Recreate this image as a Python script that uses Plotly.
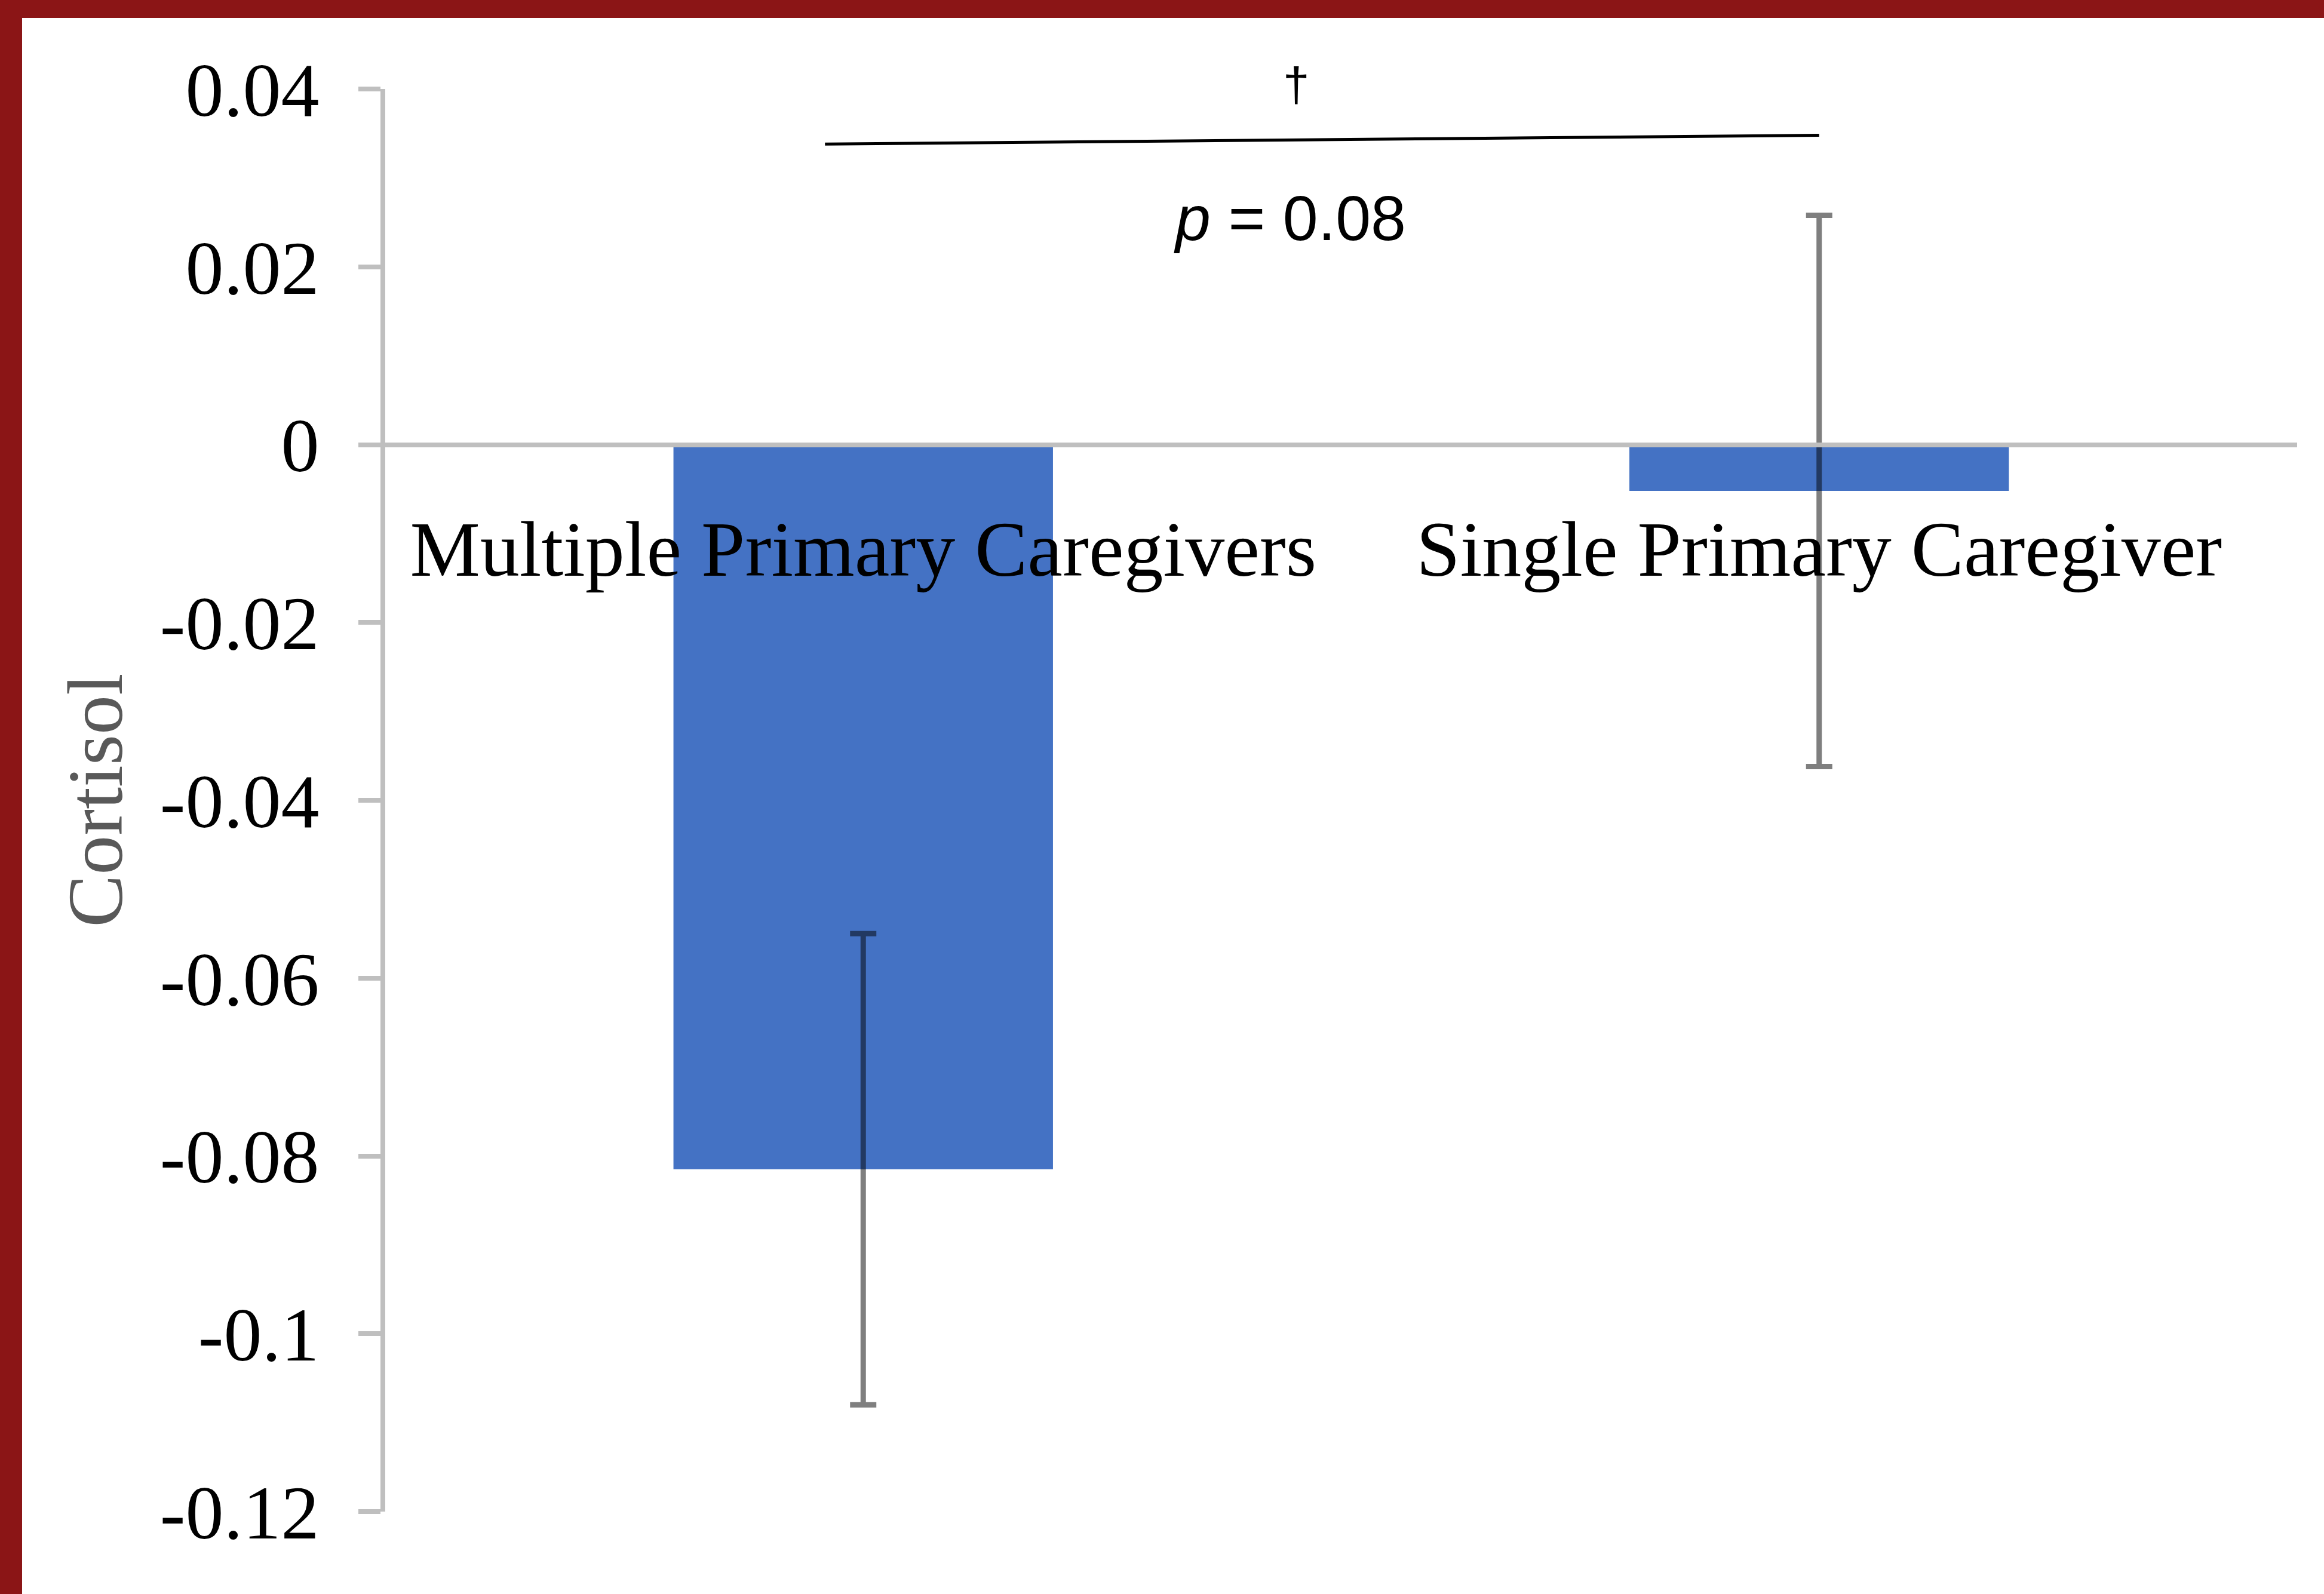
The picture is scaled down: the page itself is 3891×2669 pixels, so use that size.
import plotly.graph_objects as go

# Mean change in cortisol by caregiving arrangement, with standard errors
categories = ["Multiple Primary Caregivers", "Single Primary Caregiver"]
cortisol_mean = [-0.0815, -0.0052]
cortisol_se = [0.0265, 0.031]

y_tick_values = [0.04, 0.02, 0, -0.02, -0.04, -0.06, -0.08, -0.1, -0.12]
y_tick_labels = ["0.04", "0.02", "0", "-0.02", "-0.04", "-0.06", "-0.08", "-0.1", "-0.12"]

p_value_text = "<i>p</i> = 0.08"
significance_mark = "†"

W, H = 3891, 2669
BAR_BLUE = "#4472C4"
AXIS_GREY = "#BFBFBF"
FRAME_RED = "#8B1516"
SERIF = "Liberation Serif, Times New Roman, serif"
NARROW = "Liberation Sans Narrow, Liberation Sans, Arial, sans-serif"

fig = go.Figure()

fig.add_trace(go.Bar(
    x=categories,
    y=cortisol_mean,
    marker=dict(color=BAR_BLUE, line=dict(width=0)),
    error_y=dict(type="data", array=cortisol_se, symmetric=True,
                 color="rgba(0,0,0,0.5)", thickness=9, width=22),
    showlegend=False,
))

# significance bracket between the two groups
fig.add_shape(type="line", xref="x", yref="y",
              x0=-0.04, y0=0.0338, x1=1.0, y1=0.0348,
              line=dict(color="black", width=5))
fig.add_annotation(x=0.453, y=0.04, xref="x", yref="y", yshift=8, text=significance_mark,
                   showarrow=False, font=dict(family=NARROW, size=80, color="black"))
fig.add_annotation(x=0.446, y=0.0255, xref="x", yref="y", text=p_value_text,
                   showarrow=False, font=dict(family=NARROW, size=106, color="black"))

# dark red frame along the top and left edges of the figure
fig.add_shape(type="rect", xref="paper", yref="paper",
              xsizemode="pixel", xanchor=0, x0=-700, x1=-608,
              y0=-0.2, y1=1.2, fillcolor=FRAME_RED, line=dict(width=0), layer="above")
fig.add_shape(type="rect", xref="paper", yref="paper",
              ysizemode="pixel", yanchor=1, y0=119, y1=200,
              x0=-0.3, x1=1.1, fillcolor=FRAME_RED, line=dict(width=0), layer="above")

fig.update_layout(
    width=W, height=H, autosize=False,
    margin=dict(l=645, r=45, t=149, b=138, pad=0),
    paper_bgcolor="white", plot_bgcolor="white",
    bargap=0.603,
    font=dict(family=SERIF, color="black"),
)

fig.update_xaxes(
    range=[-0.5, 1.5],
    anchor="free", position=0.75,
    showline=True, linecolor=AXIS_GREY, linewidth=8,
    ticks="", showgrid=False, zeroline=False,
    tickfont=dict(family=SERIF, size=132, color="black"),
    ticklabelstandoff=57,
    automargin=False,
)

fig.update_yaxes(
    range=[-0.12, 0.04],
    tickmode="array", tickvals=y_tick_values, ticktext=y_tick_labels,
    showline=True, linecolor=AXIS_GREY, linewidth=8,
    ticks="outside", ticklen=37, tickwidth=8, tickcolor=AXIS_GREY,
    showgrid=False, zeroline=False,
    tickfont=dict(family=SERIF, size=128, color="black"),
    ticklabelstandoff=40,
    title=dict(text="Cortisol", font=dict(family=SERIF, size=132, color="#595959"), standoff=22),
    automargin=False,
)

fig.write_html("out.html")
